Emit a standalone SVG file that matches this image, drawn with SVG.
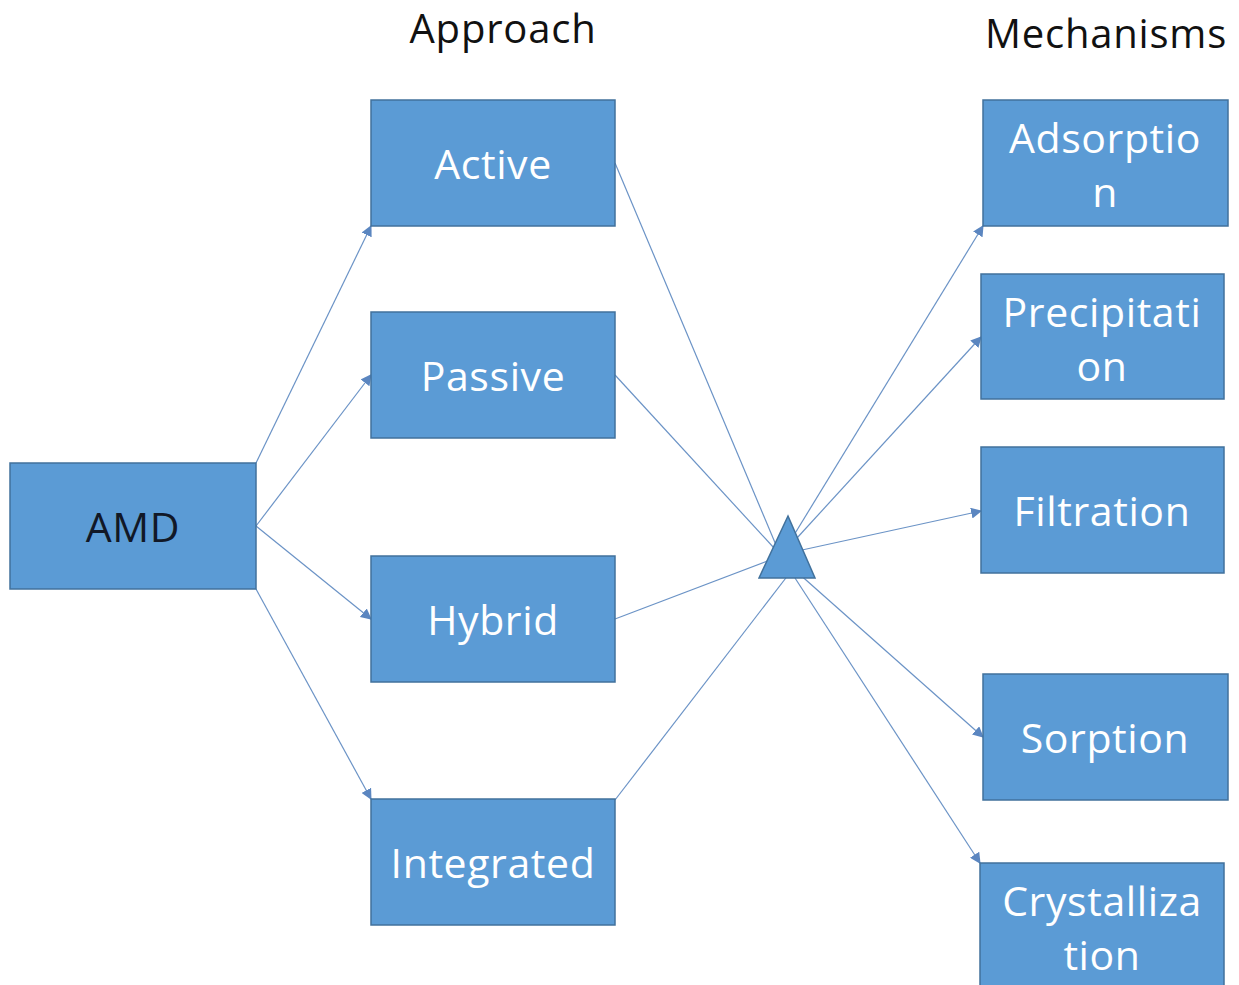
<svg xmlns="http://www.w3.org/2000/svg" width="1239" height="985" viewBox="0 0 1239 985">
<style>
.box{fill:#5b9bd5;stroke:#41719c;stroke-width:1.5}
.lbl{font-family:"Open Sans","Liberation Sans",sans-serif;font-size:41px;letter-spacing:0.6px;fill:#ffffff;text-anchor:middle;dominant-baseline:central}
.dark{fill:#111827}
.title{font-family:"Open Sans","Liberation Sans",sans-serif;font-size:40px;letter-spacing:0.8px;fill:#111111;text-anchor:middle}
.con{stroke:#6b93c6;stroke-width:1.2;fill:none}
.arr{marker-end:url(#ah)}
</style>
<defs>
<marker id="ah" viewBox="0 0 10 10" refX="9" refY="5" markerWidth="11" markerHeight="11" markerUnits="userSpaceOnUse" orient="auto">
<path d="M0,0 L10,5 L0,10 z" fill="#5b86c0"/>
</marker>
</defs>
<rect width="1239" height="985" fill="#ffffff"/>
<text class="title" x="503" y="43">Approach</text>
<text class="title" x="1106" y="48">Mechanisms</text>
<g id="connectors">
<line class="con arr" x1="256" y1="463" x2="371" y2="226"/>
<line class="con arr" x1="256" y1="526" x2="371" y2="375"/>
<line class="con arr" x1="256" y1="526" x2="371" y2="619"/>
<line class="con arr" x1="256" y1="589" x2="371" y2="799"/>
<line class="con" x1="615" y1="163" x2="776" y2="545"/>
<line class="con" x1="615" y1="375" x2="774" y2="548"/>
<line class="con" x1="615" y1="619" x2="770" y2="560"/>
<line class="con" x1="615" y1="800" x2="792" y2="570"/>
<line class="con arr" x1="794" y1="535" x2="983" y2="226"/>
<line class="con arr" x1="797" y1="538" x2="981" y2="337"/>
<line class="con arr" x1="802" y1="550" x2="981" y2="511"/>
<line class="con arr" x1="797" y1="572" x2="983" y2="737"/>
<line class="con arr" x1="795" y1="578" x2="980" y2="863"/>
</g>
<g id="node-triangle"><polygon class="box" points="788,516 815,578 759,578"/></g>
<g id="node-amd"><rect class="box" x="10" y="463" width="246" height="126"/><text class="lbl dark" x="133" y="526">AMD</text></g>
<g id="node-active"><rect class="box" x="371" y="100" width="244" height="126"/><text class="lbl" x="493" y="163">Active</text></g>
<g id="node-passive"><rect class="box" x="371" y="312" width="244" height="126"/><text class="lbl" x="493" y="375">Passive</text></g>
<g id="node-hybrid"><rect class="box" x="371" y="556" width="244" height="126"/><text class="lbl" x="493" y="619">Hybrid</text></g>
<g id="node-integrated"><rect class="box" x="371" y="799" width="244" height="126"/><text class="lbl" x="493" y="862">Integrated</text></g>
<g id="node-adsorption"><rect class="box" x="983" y="100" width="245" height="126"/><text class="lbl" x="1105" y="137">Adsorptio</text><text class="lbl" x="1105" y="191">n</text></g>
<g id="node-precipitation"><rect class="box" x="981" y="274" width="243" height="125"/><text class="lbl" x="1102" y="311">Precipitati</text><text class="lbl" x="1102" y="365">on</text></g>
<g id="node-filtration"><rect class="box" x="981" y="447" width="243" height="126"/><text class="lbl" x="1102" y="510">Filtration</text></g>
<g id="node-sorption"><rect class="box" x="983" y="674" width="245" height="126"/><text class="lbl" x="1105" y="737">Sorption</text></g>
<g id="node-crystallization"><rect class="box" x="980" y="863" width="244" height="130"/><text class="lbl" x="1102" y="900">Crystalliza</text><text class="lbl" x="1102" y="954">tion</text></g>
</svg>
